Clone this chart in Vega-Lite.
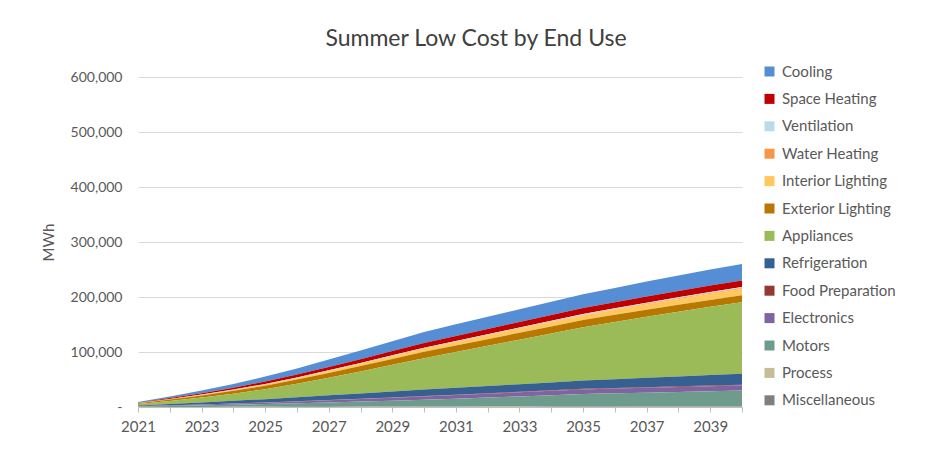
{
  "$schema": "https://vega.github.io/schema/vega-lite/v6.json",
  "width": 604,
  "height": 330,
  "autosize": {"type": "none"},
  "padding": {"left": 138, "top": 77, "right": 189, "bottom": 44},
  "background": "white",
  "title": {"text": "Summer Low Cost by End Use", "font": "Lato", "fontSize": 23, "fontWeight": "normal", "color": "#404040", "anchor": "middle", "dx": 36, "offset": 13},
  "config": {"view": {"stroke": null}},
  "data": {"values": [
    {"year":2021,"use":"Cooling","mwh":1300},{"year":2022,"use":"Cooling","mwh":3000},{"year":2023,"use":"Cooling","mwh":4800},{"year":2024,"use":"Cooling","mwh":6800},{"year":2025,"use":"Cooling","mwh":9000},{"year":2026,"use":"Cooling","mwh":11200},{"year":2027,"use":"Cooling","mwh":13500},{"year":2028,"use":"Cooling","mwh":15800},{"year":2029,"use":"Cooling","mwh":18000},{"year":2030,"use":"Cooling","mwh":20000},{"year":2031,"use":"Cooling","mwh":21200},{"year":2032,"use":"Cooling","mwh":22300},{"year":2033,"use":"Cooling","mwh":23300},{"year":2034,"use":"Cooling","mwh":24200},{"year":2035,"use":"Cooling","mwh":25000},{"year":2036,"use":"Cooling","mwh":26000},{"year":2037,"use":"Cooling","mwh":27000},{"year":2038,"use":"Cooling","mwh":28000},{"year":2039,"use":"Cooling","mwh":29000},{"year":2040,"use":"Cooling","mwh":30000},
    {"year":2021,"use":"Space Heating","mwh":700},{"year":2022,"use":"Space Heating","mwh":1600},{"year":2023,"use":"Space Heating","mwh":2500},{"year":2024,"use":"Space Heating","mwh":3500},{"year":2025,"use":"Space Heating","mwh":4500},{"year":2026,"use":"Space Heating","mwh":5300},{"year":2027,"use":"Space Heating","mwh":6100},{"year":2028,"use":"Space Heating","mwh":6900},{"year":2029,"use":"Space Heating","mwh":7700},{"year":2030,"use":"Space Heating","mwh":8500},{"year":2031,"use":"Space Heating","mwh":9000},{"year":2032,"use":"Space Heating","mwh":9500},{"year":2033,"use":"Space Heating","mwh":10000},{"year":2034,"use":"Space Heating","mwh":10500},{"year":2035,"use":"Space Heating","mwh":11000},{"year":2036,"use":"Space Heating","mwh":11200},{"year":2037,"use":"Space Heating","mwh":11400},{"year":2038,"use":"Space Heating","mwh":11600},{"year":2039,"use":"Space Heating","mwh":11800},{"year":2040,"use":"Space Heating","mwh":12000},
    {"year":2021,"use":"Ventilation","mwh":100},{"year":2022,"use":"Ventilation","mwh":200},{"year":2023,"use":"Ventilation","mwh":300},{"year":2024,"use":"Ventilation","mwh":450},{"year":2025,"use":"Ventilation","mwh":600},{"year":2026,"use":"Ventilation","mwh":700},{"year":2027,"use":"Ventilation","mwh":800},{"year":2028,"use":"Ventilation","mwh":950},{"year":2029,"use":"Ventilation","mwh":1100},{"year":2030,"use":"Ventilation","mwh":1200},{"year":2031,"use":"Ventilation","mwh":1250},{"year":2032,"use":"Ventilation","mwh":1300},{"year":2033,"use":"Ventilation","mwh":1400},{"year":2034,"use":"Ventilation","mwh":1450},{"year":2035,"use":"Ventilation","mwh":1500},{"year":2036,"use":"Ventilation","mwh":1550},{"year":2037,"use":"Ventilation","mwh":1600},{"year":2038,"use":"Ventilation","mwh":1700},{"year":2039,"use":"Ventilation","mwh":1750},{"year":2040,"use":"Ventilation","mwh":1800},
    {"year":2021,"use":"Water Heating","mwh":100},{"year":2022,"use":"Water Heating","mwh":150},{"year":2023,"use":"Water Heating","mwh":200},{"year":2024,"use":"Water Heating","mwh":300},{"year":2025,"use":"Water Heating","mwh":400},{"year":2026,"use":"Water Heating","mwh":450},{"year":2027,"use":"Water Heating","mwh":550},{"year":2028,"use":"Water Heating","mwh":650},{"year":2029,"use":"Water Heating","mwh":700},{"year":2030,"use":"Water Heating","mwh":800},{"year":2031,"use":"Water Heating","mwh":850},{"year":2032,"use":"Water Heating","mwh":900},{"year":2033,"use":"Water Heating","mwh":950},{"year":2034,"use":"Water Heating","mwh":1000},{"year":2035,"use":"Water Heating","mwh":1000},{"year":2036,"use":"Water Heating","mwh":1050},{"year":2037,"use":"Water Heating","mwh":1100},{"year":2038,"use":"Water Heating","mwh":1200},{"year":2039,"use":"Water Heating","mwh":1250},{"year":2040,"use":"Water Heating","mwh":1300},
    {"year":2021,"use":"Interior Lighting","mwh":300},{"year":2022,"use":"Interior Lighting","mwh":700},{"year":2023,"use":"Interior Lighting","mwh":1100},{"year":2024,"use":"Interior Lighting","mwh":1500},{"year":2025,"use":"Interior Lighting","mwh":2000},{"year":2026,"use":"Interior Lighting","mwh":2600},{"year":2027,"use":"Interior Lighting","mwh":3300},{"year":2028,"use":"Interior Lighting","mwh":4000},{"year":2029,"use":"Interior Lighting","mwh":4700},{"year":2030,"use":"Interior Lighting","mwh":5500},{"year":2031,"use":"Interior Lighting","mwh":6100},{"year":2032,"use":"Interior Lighting","mwh":6700},{"year":2033,"use":"Interior Lighting","mwh":7300},{"year":2034,"use":"Interior Lighting","mwh":7900},{"year":2035,"use":"Interior Lighting","mwh":8500},{"year":2036,"use":"Interior Lighting","mwh":9200},{"year":2037,"use":"Interior Lighting","mwh":9900},{"year":2038,"use":"Interior Lighting","mwh":10600},{"year":2039,"use":"Interior Lighting","mwh":11300},{"year":2040,"use":"Interior Lighting","mwh":12000},
    {"year":2021,"use":"Exterior Lighting","mwh":1200},{"year":2022,"use":"Exterior Lighting","mwh":2500},{"year":2023,"use":"Exterior Lighting","mwh":3800},{"year":2024,"use":"Exterior Lighting","mwh":5100},{"year":2025,"use":"Exterior Lighting","mwh":6500},{"year":2026,"use":"Exterior Lighting","mwh":7600},{"year":2027,"use":"Exterior Lighting","mwh":8700},{"year":2028,"use":"Exterior Lighting","mwh":9800},{"year":2029,"use":"Exterior Lighting","mwh":10700},{"year":2030,"use":"Exterior Lighting","mwh":11500},{"year":2031,"use":"Exterior Lighting","mwh":11800},{"year":2032,"use":"Exterior Lighting","mwh":12100},{"year":2033,"use":"Exterior Lighting","mwh":12400},{"year":2034,"use":"Exterior Lighting","mwh":12700},{"year":2035,"use":"Exterior Lighting","mwh":13000},{"year":2036,"use":"Exterior Lighting","mwh":13000},{"year":2037,"use":"Exterior Lighting","mwh":12900},{"year":2038,"use":"Exterior Lighting","mwh":12800},{"year":2039,"use":"Exterior Lighting","mwh":12700},{"year":2040,"use":"Exterior Lighting","mwh":12500},
    {"year":2021,"use":"Appliances","mwh":2500},{"year":2022,"use":"Appliances","mwh":5500},{"year":2023,"use":"Appliances","mwh":9000},{"year":2024,"use":"Appliances","mwh":13000},{"year":2025,"use":"Appliances","mwh":18000},{"year":2026,"use":"Appliances","mwh":24500},{"year":2027,"use":"Appliances","mwh":32000},{"year":2028,"use":"Appliances","mwh":40000},{"year":2029,"use":"Appliances","mwh":48500},{"year":2030,"use":"Appliances","mwh":57000},{"year":2031,"use":"Appliances","mwh":65000},{"year":2032,"use":"Appliances","mwh":73000},{"year":2033,"use":"Appliances","mwh":81000},{"year":2034,"use":"Appliances","mwh":89000},{"year":2035,"use":"Appliances","mwh":97000},{"year":2036,"use":"Appliances","mwh":104000},{"year":2037,"use":"Appliances","mwh":111000},{"year":2038,"use":"Appliances","mwh":117500},{"year":2039,"use":"Appliances","mwh":124000},{"year":2040,"use":"Appliances","mwh":130000},
    {"year":2021,"use":"Refrigeration","mwh":1300},{"year":2022,"use":"Refrigeration","mwh":2500},{"year":2023,"use":"Refrigeration","mwh":3600},{"year":2024,"use":"Refrigeration","mwh":4800},{"year":2025,"use":"Refrigeration","mwh":6000},{"year":2026,"use":"Refrigeration","mwh":7200},{"year":2027,"use":"Refrigeration","mwh":8400},{"year":2028,"use":"Refrigeration","mwh":9600},{"year":2029,"use":"Refrigeration","mwh":10800},{"year":2030,"use":"Refrigeration","mwh":12000},{"year":2031,"use":"Refrigeration","mwh":12600},{"year":2032,"use":"Refrigeration","mwh":13200},{"year":2033,"use":"Refrigeration","mwh":13800},{"year":2034,"use":"Refrigeration","mwh":14400},{"year":2035,"use":"Refrigeration","mwh":15000},{"year":2036,"use":"Refrigeration","mwh":16000},{"year":2037,"use":"Refrigeration","mwh":17000},{"year":2038,"use":"Refrigeration","mwh":18000},{"year":2039,"use":"Refrigeration","mwh":19000},{"year":2040,"use":"Refrigeration","mwh":20000},
    {"year":2021,"use":"Food Preparation","mwh":100},{"year":2022,"use":"Food Preparation","mwh":150},{"year":2023,"use":"Food Preparation","mwh":200},{"year":2024,"use":"Food Preparation","mwh":300},{"year":2025,"use":"Food Preparation","mwh":400},{"year":2026,"use":"Food Preparation","mwh":450},{"year":2027,"use":"Food Preparation","mwh":550},{"year":2028,"use":"Food Preparation","mwh":600},{"year":2029,"use":"Food Preparation","mwh":700},{"year":2030,"use":"Food Preparation","mwh":800},{"year":2031,"use":"Food Preparation","mwh":850},{"year":2032,"use":"Food Preparation","mwh":900},{"year":2033,"use":"Food Preparation","mwh":900},{"year":2034,"use":"Food Preparation","mwh":950},{"year":2035,"use":"Food Preparation","mwh":1000},{"year":2036,"use":"Food Preparation","mwh":1050},{"year":2037,"use":"Food Preparation","mwh":1100},{"year":2038,"use":"Food Preparation","mwh":1100},{"year":2039,"use":"Food Preparation","mwh":1150},{"year":2040,"use":"Food Preparation","mwh":1200},
    {"year":2021,"use":"Electronics","mwh":400},{"year":2022,"use":"Electronics","mwh":900},{"year":2023,"use":"Electronics","mwh":1400},{"year":2024,"use":"Electronics","mwh":2000},{"year":2025,"use":"Electronics","mwh":2500},{"year":2026,"use":"Electronics","mwh":3200},{"year":2027,"use":"Electronics","mwh":3900},{"year":2028,"use":"Electronics","mwh":4600},{"year":2029,"use":"Electronics","mwh":5300},{"year":2030,"use":"Electronics","mwh":6000},{"year":2031,"use":"Electronics","mwh":6500},{"year":2032,"use":"Electronics","mwh":7000},{"year":2033,"use":"Electronics","mwh":7500},{"year":2034,"use":"Electronics","mwh":8000},{"year":2035,"use":"Electronics","mwh":8500},{"year":2036,"use":"Electronics","mwh":8700},{"year":2037,"use":"Electronics","mwh":8900},{"year":2038,"use":"Electronics","mwh":9100},{"year":2039,"use":"Electronics","mwh":9300},{"year":2040,"use":"Electronics","mwh":9500},
    {"year":2021,"use":"Motors","mwh":1000},{"year":2022,"use":"Motors","mwh":1800},{"year":2023,"use":"Motors","mwh":2800},{"year":2024,"use":"Motors","mwh":3900},{"year":2025,"use":"Motors","mwh":5000},{"year":2026,"use":"Motors","mwh":6400},{"year":2027,"use":"Motors","mwh":7800},{"year":2028,"use":"Motors","mwh":9200},{"year":2029,"use":"Motors","mwh":10600},{"year":2030,"use":"Motors","mwh":12000},{"year":2031,"use":"Motors","mwh":14000},{"year":2032,"use":"Motors","mwh":16000},{"year":2033,"use":"Motors","mwh":18000},{"year":2034,"use":"Motors","mwh":20000},{"year":2035,"use":"Motors","mwh":22000},{"year":2036,"use":"Motors","mwh":23200},{"year":2037,"use":"Motors","mwh":24400},{"year":2038,"use":"Motors","mwh":25600},{"year":2039,"use":"Motors","mwh":26800},{"year":2040,"use":"Motors","mwh":28000},
    {"year":2021,"use":"Process","mwh":50},{"year":2022,"use":"Process","mwh":80},{"year":2023,"use":"Process","mwh":100},{"year":2024,"use":"Process","mwh":150},{"year":2025,"use":"Process","mwh":200},{"year":2026,"use":"Process","mwh":250},{"year":2027,"use":"Process","mwh":300},{"year":2028,"use":"Process","mwh":350},{"year":2029,"use":"Process","mwh":420},{"year":2030,"use":"Process","mwh":500},{"year":2031,"use":"Process","mwh":540},{"year":2032,"use":"Process","mwh":580},{"year":2033,"use":"Process","mwh":620},{"year":2034,"use":"Process","mwh":660},{"year":2035,"use":"Process","mwh":700},{"year":2036,"use":"Process","mwh":740},{"year":2037,"use":"Process","mwh":780},{"year":2038,"use":"Process","mwh":820},{"year":2039,"use":"Process","mwh":860},{"year":2040,"use":"Process","mwh":900},
    {"year":2021,"use":"Miscellaneous","mwh":50},{"year":2022,"use":"Miscellaneous","mwh":80},{"year":2023,"use":"Miscellaneous","mwh":100},{"year":2024,"use":"Miscellaneous","mwh":150},{"year":2025,"use":"Miscellaneous","mwh":200},{"year":2026,"use":"Miscellaneous","mwh":250},{"year":2027,"use":"Miscellaneous","mwh":300},{"year":2028,"use":"Miscellaneous","mwh":350},{"year":2029,"use":"Miscellaneous","mwh":420},{"year":2030,"use":"Miscellaneous","mwh":500},{"year":2031,"use":"Miscellaneous","mwh":560},{"year":2032,"use":"Miscellaneous","mwh":620},{"year":2033,"use":"Miscellaneous","mwh":680},{"year":2034,"use":"Miscellaneous","mwh":740},{"year":2035,"use":"Miscellaneous","mwh":800},{"year":2036,"use":"Miscellaneous","mwh":840},{"year":2037,"use":"Miscellaneous","mwh":880},{"year":2038,"use":"Miscellaneous","mwh":920},{"year":2039,"use":"Miscellaneous","mwh":960},{"year":2040,"use":"Miscellaneous","mwh":1000}
  ]},
  "transform": [
    {"calculate": "indexof(['Cooling','Space Heating','Ventilation','Water Heating','Interior Lighting','Exterior Lighting','Appliances','Refrigeration','Food Preparation','Electronics','Motors','Process','Miscellaneous'], datum.use)", "as": "stackRank"}
  ],
  "mark": {"type": "area", "interpolate": "linear"},
  "encoding": {
    "x": {
      "field": "year", "type": "quantitative",
      "scale": {"domain": [2021, 2040], "nice": false, "zero": false},
      "axis": {
        "title": null,
        "values": [2021,2022,2023,2024,2025,2026,2027,2028,2029,2030,2031,2032,2033,2034,2035,2036,2037,2038,2039,2040],
        "format": "d",
        "labelExpr": "(datum.value - 2021) % 2 == 0 ? datum.label : ''",
        "labelFlush": false, "labelOverlap": false,
        "grid": false,
        "domainColor": "#BFBFBF", "tickColor": "#BFBFBF", "tickSize": 5,
        "labelFont": "Lato", "labelFontSize": 15, "labelColor": "#595959", "labelPadding": 7
      }
    },
    "y": {
      "field": "mwh", "type": "quantitative", "stack": "zero",
      "scale": {"domain": [0, 600000], "nice": false},
      "axis": {
        "title": "MWh", "titleFont": "Lato", "titleFontSize": 15, "titleFontWeight": "normal", "titleColor": "#595959", "titlePadding": 14,
        "values": [0, 100000, 200000, 300000, 400000, 500000, 600000],
        "labelExpr": "datum.value == 0 ? '-' : format(datum.value, ',')",
        "domain": false, "ticks": false, "tickSize": 0,
        "gridColor": "#D9D9D9", "gridWidth": 1,
        "labelFont": "Lato", "labelFontSize": 14, "labelColor": "#595959", "labelPadding": 16
      }
    },
    "order": {"field": "stackRank", "type": "quantitative", "sort": "descending"},
    "color": {
      "field": "use", "type": "nominal",
      "sort": ["Cooling","Space Heating","Ventilation","Water Heating","Interior Lighting","Exterior Lighting","Appliances","Refrigeration","Food Preparation","Electronics","Motors","Process","Miscellaneous"],
      "scale": {
        "domain": ["Cooling","Space Heating","Ventilation","Water Heating","Interior Lighting","Exterior Lighting","Appliances","Refrigeration","Food Preparation","Electronics","Motors","Process","Miscellaneous"],
        "range": ["#558ED5","#C00000","#B7DEE8","#F79646","#FFC85F","#B87800","#9BBB59","#376092","#953735","#8064A2","#6E9C8C","#C4BD97","#7F7F7F"]
      },
      "legend": {
        "title": null, "orient": "none", "legendX": 624, "legendY": -13,
        "symbolType": "square", "symbolSize": 100, "symbolStrokeWidth": 0,
        "labelFont": "Lato", "labelFontSize": 15, "labelColor": "#595959", "labelOffset": 5,
        "rowPadding": 11.4
      }
    }
  }
}
